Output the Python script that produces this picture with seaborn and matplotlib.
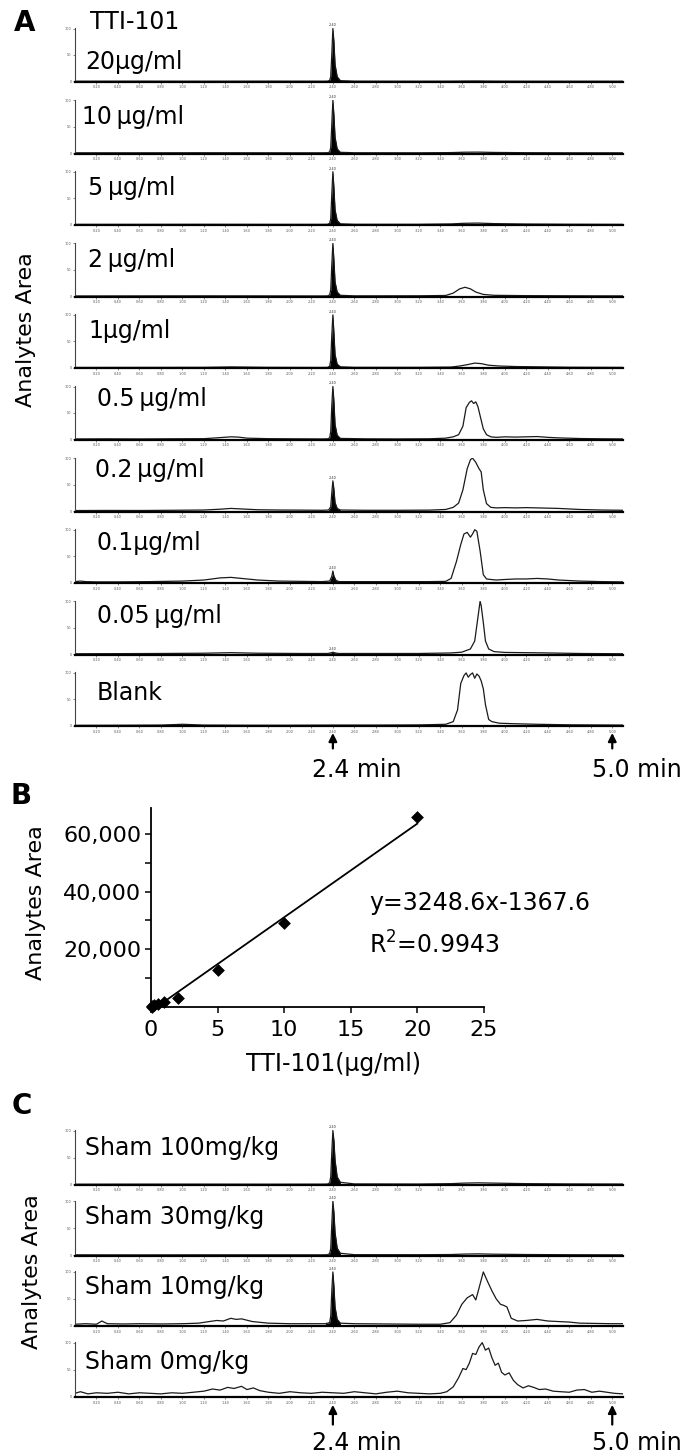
import matplotlib
matplotlib.use("Agg")
import matplotlib.pyplot as plt
import seaborn as sns
import numpy as np

sns.set_theme(style="white")
plt.rcParams["font.family"] = ["DejaVu Sans"]
plt.rcParams["mathtext.default"] = "regular"
plt.rcParams["text.color"] = "black"
plt.rcParams["axes.labelcolor"] = "black"

FIG_W, FIG_H = 698, 1455

# ---------------- Panel A: standard chromatograms ----------------
std_names = ["20μg/ml", "10\u2009μg/ml", "5\u2009μg/ml", "2\u2009μg/ml", "1μg/ml",
             "0.5\u2009μg/ml", "0.2\u2009μg/ml", "0.1μg/ml", "0.05\u2009μg/ml", "Blank"]

# shared time grid for the clean traces (min)
t_clean = [0.00, 0.60, 1.20, 1.80, 2.30, 2.35, 2.37, 2.38, 2.39, 2.40, 2.41, 2.42,
           2.44, 2.47, 2.60, 3.20, 3.50, 3.62, 3.75, 3.90, 4.20, 4.60, 5.10]
v_a1 = [0.5, 0.6, 0.5, 0.6, 0.5, 0.6, 2, 9, 52, 100, 74, 32, 9, 1.5, 0.6, 0.5,
        0.6, 0.8, 0.9, 0.6, 0.5, 0.5, 0.5]
v_a2 = [0.5, 0.5, 0.6, 0.5, 0.5, 0.6, 2, 10, 55, 100, 70, 30, 8, 1.4, 0.6, 0.5,
        0.9, 1.6, 1.8, 1.2, 0.7, 0.5, 0.5]
v_a3 = [0.6, 0.6, 0.7, 0.6, 0.6, 0.7, 2.5, 11, 58, 100, 68, 28, 8, 1.6, 0.7, 0.7,
        1.4, 2.6, 3.0, 2.0, 1.2, 0.8, 0.6]

t_a4 = [0.00, 0.60, 1.20, 1.80, 2.30, 2.35, 2.37, 2.38, 2.39, 2.40, 2.41, 2.42, 2.44,
        2.47, 2.60, 3.20, 3.45, 3.52, 3.58, 3.63, 3.68, 3.73, 3.80, 3.90, 4.20, 4.60, 5.10]
v_a4 = [0.6, 0.7, 0.8, 0.7, 0.6, 0.7, 2.5, 12, 60, 100, 66, 27, 8, 1.8, 0.8, 0.9,
        1.5, 6, 14, 17, 14, 8, 3.5, 1.8, 1.2, 0.9, 0.7]

t_a5 = [0.00, 0.60, 1.20, 1.45, 1.80, 2.30, 2.35, 2.37, 2.38, 2.39, 2.40, 2.41, 2.42,
        2.44, 2.47, 2.60, 3.20, 3.50, 3.58, 3.65, 3.72, 3.78, 3.85, 3.95, 4.10, 4.30,
        4.60, 5.10]
v_a5 = [0.8, 0.9, 1.0, 1.8, 1.0, 0.8, 0.9, 3, 14, 62, 100, 64, 25, 7, 2, 1, 1,
        1.5, 3.5, 6, 9, 8, 5, 3.5, 2.5, 2, 1.2, 0.9]

t_a6 = [0.00, 0.30, 0.60, 0.90, 1.20, 1.35, 1.45, 1.52, 1.60, 1.80, 2.10, 2.30, 2.35,
        2.37, 2.38, 2.39, 2.40, 2.41, 2.42, 2.44, 2.47, 2.70, 3.00, 3.30, 3.45, 3.52,
        3.57, 3.61, 3.64, 3.67, 3.69, 3.71, 3.73, 3.75, 3.77, 3.80, 3.83, 3.87, 3.92,
        4.00, 4.10, 4.20, 4.30, 4.40, 4.50, 4.70, 4.90, 5.10]
v_a6 = [1.0, 1.2, 1.0, 1.3, 1.5, 3.5, 5, 4.5, 2.5, 1.5, 1.2, 1.0, 1.2, 3, 15,
        65, 100, 70, 28, 8, 2, 1.2, 1.0, 1.3, 2.5, 5, 9, 25, 60, 70,
        73, 68, 71, 62, 45, 20, 9, 5, 4, 5, 4.5, 5, 5.5, 4, 3, 1.8, 1.3, 1.0]

t_a7 = [0.00, 0.30, 0.60, 0.90, 1.20, 1.35, 1.45, 1.55, 1.70, 1.90, 2.10, 2.30, 2.36,
        2.38, 2.39, 2.40, 2.41, 2.42, 2.44, 2.47, 2.70, 3.00, 3.30, 3.45, 3.52, 3.57,
        3.61, 3.65, 3.68, 3.70, 3.73, 3.76, 3.78, 3.80, 3.83, 3.87, 3.92, 4.00, 4.10,
        4.20, 4.30, 4.40, 4.50, 4.60, 4.70, 4.90, 5.10]
v_a7 = [1.0, 1.2, 1.1, 1.5, 2.0, 3.5, 5, 4, 2.5, 2.0, 1.8, 1.5, 2, 8, 35,
        57, 40, 16, 5, 2, 1.5, 1.5, 1.8, 3, 7, 15, 40, 80, 97, 100,
        92, 80, 74, 40, 14, 7, 6, 6.5, 6, 6.5, 6, 5.5, 5, 4, 3, 2, 1.5]

t_a8 = [0.00, 0.05, 0.10, 0.20, 0.40, 0.70, 1.00, 1.20, 1.35, 1.45, 1.55, 1.70, 1.90,
        2.10, 2.30, 2.37, 2.39, 2.40, 2.41, 2.43, 2.46, 2.70, 3.00, 3.30, 3.45, 3.50,
        3.55, 3.59, 3.62, 3.65, 3.68, 3.70, 3.72, 3.74, 3.77, 3.80, 3.83, 3.87, 3.92,
        4.00, 4.10, 4.20, 4.30, 4.40, 4.50, 4.60, 4.70, 4.90, 5.10]
v_a8 = [2, 3, 2, 1.5, 1.5, 2, 3, 5, 9, 10, 8, 5, 3, 2.5, 2, 3, 12, 22, 12, 4,
        2, 2, 2, 2, 2.5, 8, 40, 72, 92, 95, 86, 92, 100, 97, 60, 15, 7, 6, 5, 6,
        7, 7, 8, 7, 5, 4, 3, 2, 1.5]

t_a9 = [0.00, 0.40, 0.80, 1.20, 1.45, 1.70, 2.10, 2.35, 2.39, 2.40, 2.41, 2.45, 2.80,
        3.20, 3.50, 3.60, 3.68, 3.72, 3.74, 3.76, 3.77, 3.78, 3.80, 3.82, 3.85, 3.90,
        4.00, 4.20, 4.40, 4.70, 5.10]
v_a9 = [1, 1.2, 1.5, 2, 3, 2, 1.5, 1.5, 3, 4, 3, 1.5, 1.5, 1.5, 2.5, 4, 10, 25,
        55, 85, 100, 92, 60, 25, 10, 5, 3.5, 3, 2.5, 1.5, 1]

t_a10 = [0.00, 0.40, 0.80, 1.00, 1.20, 1.60, 2.00, 2.40, 2.80, 3.20, 3.45, 3.52, 3.56,
         3.59, 3.62, 3.64, 3.66, 3.68, 3.70, 3.72, 3.74, 3.76, 3.78, 3.80, 3.82, 3.85,
         3.88, 3.95, 4.10, 4.30, 4.60, 5.10]
v_a10 = [1, 1.2, 1.5, 3, 1.5, 1.2, 1.2, 1.5, 1.5, 1.8, 3, 8, 30, 80, 95, 100, 92, 97,
         100, 90, 98, 94, 85, 70, 40, 12, 8, 5, 4, 3, 2, 1.5]

std_traces = [(t_clean, v_a1), (t_clean, v_a2), (t_clean, v_a3), (t_a4, v_a4),
              (t_a5, v_a5), (t_a6, v_a6), (t_a7, v_a7), (t_a8, v_a8),
              (t_a9, v_a9), (t_a10, v_a10)]

# ---------------- Panel B: calibration curve ----------------
conc = [0.05, 0.1, 0.2, 0.5, 1, 2, 5, 10, 20]
area = [150, 300, 600, 1200, 1700, 3200, 13000, 29000, 65800]
fit_slope, fit_intercept = 3248.6, -1367.6
fit_x = [0.42, 20]
b_xticks = [0, 5, 10, 15, 20, 25]
b_yticks = [10000, 20000, 30000, 40000, 50000, 60000]
b_yticklabels = ["", "20,000", "", "40,000", "", "60,000"]

# ---------------- Panel C: sham plasma ----------------
sham_names = ["Sham 100mg/kg", "Sham 30mg/kg", "Sham 10mg/kg", "Sham 0mg/kg"]
v_c1 = [0.5, 0.6, 0.6, 0.5, 0.6, 0.8, 3, 14, 60, 100, 80, 45, 14, 4, 1.0, 0.8,
        1.5, 2.5, 3.0, 2.5, 1.5, 1.0, 0.8]
v_c2 = [0.6, 0.5, 0.6, 0.6, 0.6, 0.8, 3, 12, 58, 100, 78, 42, 13, 3.5, 0.9, 0.8,
        1.2, 2.0, 2.4, 1.8, 1.2, 0.8, 0.6]

t_c3 = [0.00, 0.10, 0.20, 0.25, 0.30, 0.45, 0.60, 0.80, 1.00, 1.15, 1.25, 1.32, 1.38,
        1.45, 1.50, 1.55, 1.65, 1.80, 2.00, 2.20, 2.33, 2.37, 2.38, 2.39, 2.40, 2.41,
        2.42, 2.44, 2.47, 2.60, 2.90, 3.20, 3.40, 3.49, 3.55, 3.60, 3.65, 3.70, 3.73,
        3.76, 3.80, 3.84, 3.88, 3.92, 3.96, 3.99, 4.02, 4.06, 4.12, 4.20, 4.30, 4.40,
        4.50, 4.60, 4.70, 4.85, 5.00, 5.10]
v_c3 = [3, 4, 3, 9, 4, 3.5, 4, 3.5, 4, 5, 8, 10, 9, 14, 12, 13, 8, 5, 4, 4,
        4, 6, 18, 65, 100, 72, 35, 12, 5, 4, 3.5, 3, 3, 6, 20, 40, 52, 58, 48, 70,
        100, 82, 65, 50, 40, 38, 35, 14, 9, 10, 12, 9, 8, 7, 5, 4.5, 4, 4]

t_c4 = [0.00, 0.05, 0.12, 0.20, 0.30, 0.40, 0.50, 0.60, 0.70, 0.80, 0.90, 1.00, 1.10,
        1.20, 1.28, 1.35, 1.42, 1.48, 1.55, 1.60, 1.66, 1.72, 1.80, 1.90, 2.00, 2.10,
        2.20, 2.30, 2.40, 2.50, 2.60, 2.70, 2.80, 2.90, 3.00, 3.10, 3.20, 3.30, 3.40,
        3.46, 3.52, 3.57, 3.61, 3.64, 3.67, 3.70, 3.73, 3.76, 3.79, 3.82, 3.85, 3.88,
        3.91, 3.94, 3.97, 4.00, 4.04, 4.08, 4.12, 4.17, 4.22, 4.27, 4.32, 4.38, 4.45,
        4.52, 4.60, 4.67, 4.74, 4.81, 4.88, 4.95, 5.02, 5.10]
v_c4 = [6, 9, 5, 7, 6, 8, 5, 7, 6, 5,
        7, 6, 8, 10, 14, 12, 17, 15, 19, 13,
        16, 11, 8, 6, 9, 7, 6, 8, 7, 6,
        9, 7, 5, 8, 10, 7, 6, 5, 6, 9,
        18, 35, 52, 50, 62, 80, 78, 92, 100, 86,
        90, 72, 58, 62, 45, 40, 44, 30, 22, 16,
        20, 17, 13, 14, 10, 9, 8, 12, 13, 8,
        10, 8, 6, 5]

sham_traces = [(t_clean, v_c1), (t_clean, v_c2), (t_c3, v_c3), (t_c4, v_c4)]
sham_has_peak = [True, True, True, False]

trace_ticks = np.arange(0.2, 5.01, 0.2)


def px_axes(fig, left, top, width, height):
    return fig.add_axes([left / FIG_W, 1 - (top + height) / FIG_H,
                         width / FIG_W, height / FIG_H])


def fig_text(fig, x, y, s, **kw):
    fig.text(x / FIG_W, 1 - y / FIG_H, s, **kw)


# One chromatogram strip
def draw_trace(ax, t, v, fill_peak=True):
    t = np.asarray(t, dtype=float)
    v = np.asarray(v, dtype=float)
    sns.lineplot(x=t, y=v, ax=ax, color="#1a1a1a", linewidth=0.9,
                 estimator=None, sort=False)
    if fill_peak:
        m = (t >= 2.33) & (t <= 2.49)
        ax.fill_between(t[m], v[m], color="black", linewidth=0)
        ax.text(2.395, v[m].max() + 2, "2.40", fontsize=2.5, ha="center",
                va="bottom", color="#333", clip_on=False)
    ax.set_xlim(0, 5.1)
    ax.set_ylim(-1, 101)
    ax.set_xticks(trace_ticks)
    ax.set_xticklabels([f"{x:.2f}" for x in trace_ticks])
    ax.set_yticks([0, 50, 100])
    ax.set_yticklabels(["0", "50", "100"])
    ax.tick_params(axis="both", bottom=True, left=True, direction="out", length=1.5,
                   width=0.5, labelsize=2.5, pad=1, colors="#555")
    for side in ["top", "right"]:
        ax.spines[side].set_visible(False)
    ax.spines["bottom"].set_color("black")
    ax.spines["bottom"].set_linewidth(1.6)
    ax.spines["left"].set_color("#444")
    ax.spines["left"].set_linewidth(0.8)
    ax.set_xlabel("")
    ax.set_ylabel("")
    ax.patch.set_alpha(0)


def add_time_arrows(ax, head, tail, text_y):
    tr = ax.get_xaxis_transform()
    for t in [2.4, 5.0]:
        ax.annotate("", xy=(t, head), xycoords=tr, xytext=(t, tail), textcoords=tr,
                    arrowprops=dict(arrowstyle="-|>", color="black", lw=1.6,
                                    mutation_scale=12), annotation_clip=False)
    ax.text(2.62, text_y, "2.4 min", transform=tr, fontsize=17, ha="center",
            va="center", clip_on=False)
    ax.text(5.23, text_y, "5.0 min", transform=tr, fontsize=17, ha="center",
            va="center", clip_on=False)


def draw_figure():
    fig = plt.figure(figsize=(FIG_W / 100, FIG_H / 100), dpi=100)

    # ----- Panel A -----
    std_label_dy = [34, 17, 17, 17, 17, 13, 12, 14, 15, 21]
    std_label_x = [85, 82, 88, 88, 88, 97, 95, 97, 97, 97]
    ax = None
    for k, (t, v) in enumerate(std_traces):
        top = 28 + 71.6 * k
        ax = px_axes(fig, 75, top, 548, 54)
        draw_trace(ax, t, v, fill_peak=(k < 9))
        fig_text(fig, std_label_x[k], top + std_label_dy[k], std_names[k],
                 fontsize=17, va="center", ha="left")
    fig_text(fig, 90, 22, "TTI-101", fontsize=17, va="center", ha="left")
    add_time_arrows(ax, -0.07, -0.46, -0.80)
    fig_text(fig, 25, 23, "A", fontsize=20, fontweight="bold", ha="center", va="center")
    fig_text(fig, 26, 330, "Analytes Area", fontsize=16, rotation=90,
             ha="center", va="center")

    # ----- Panel B -----
    ax_b = px_axes(fig, 151, 808, 333, 199)
    fit_y = [fit_slope * x + fit_intercept for x in fit_x]
    sns.lineplot(x=fit_x, y=fit_y, ax=ax_b, color="black", linewidth=1.3)
    sns.scatterplot(x=conc, y=area, ax=ax_b, marker="D", s=36, color="black",
                    edgecolor="black", zorder=3, clip_on=False)
    ax_b.set_xlim(0, 25)
    ax_b.set_ylim(0, 69000)
    ax_b.set_xticks(b_xticks)
    ax_b.set_xticklabels([str(x) for x in b_xticks])
    ax_b.set_yticks(b_yticks)
    ax_b.set_yticklabels(b_yticklabels)
    ax_b.tick_params(axis="both", bottom=True, left=True, direction="out", length=4,
                     width=1.1, labelsize=16, colors="black")
    ax_b.tick_params(axis="x", pad=5)
    ax_b.tick_params(axis="y", pad=3)
    for side in ["top", "right"]:
        ax_b.spines[side].set_visible(False)
    for side in ["left", "bottom"]:
        ax_b.spines[side].set_color("black")
        ax_b.spines[side].set_linewidth(1.3)
    ax_b.set_xlabel("TTI-101(μg/ml)", fontsize=17)
    ax_b.xaxis.set_label_coords(0.547, -0.225)
    ax_b.set_ylabel("Analytes Area", fontsize=16)
    ax_b.yaxis.set_label_coords(-0.315, 0.523)
    ax_b.text(16.4, 36000, "y=3248.6x-1367.6", fontsize=17, va="center")
    ax_b.text(16.4, 21500, "R$^2$=0.9943", fontsize=17, va="center")
    ax_b.patch.set_alpha(0)
    fig_text(fig, 21, 796, "B", fontsize=20, fontweight="bold", ha="center", va="center")

    # ----- Panel C -----
    sham_label_dy = [18, 16, 16, 20]
    for k, (t, v) in enumerate(sham_traces):
        top = 1130 + 70.7 * k
        ax = px_axes(fig, 75, top, 548, 55)
        draw_trace(ax, t, v, fill_peak=sham_has_peak[k])
        fig_text(fig, 85, top + sham_label_dy[k], sham_names[k], fontsize=17,
                 va="center", ha="left")
    add_time_arrows(ax, -0.09, -0.55, -0.84)
    fig_text(fig, 22, 1106, "C", fontsize=20, fontweight="bold", ha="center", va="center")
    fig_text(fig, 32, 1272, "Analytes Area", fontsize=16, rotation=90,
             ha="center", va="center")

    fig.savefig("out.png", dpi=100, facecolor="white")
    plt.close(fig)


if __name__ == "__main__":
    draw_figure()
